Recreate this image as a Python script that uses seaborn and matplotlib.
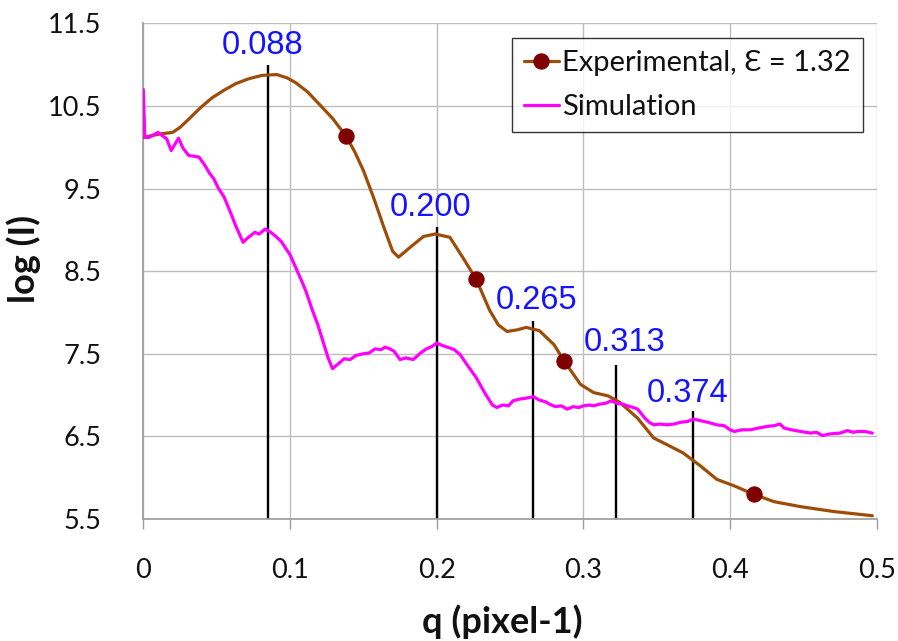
import numpy as np
import seaborn as sns
import matplotlib.pyplot as plt

# experimental curve (log I vs q)
exp_q = [0.000, 0.011, 0.020, 0.025, 0.031, 0.039, 0.047, 0.055, 0.063, 0.072,
         0.081, 0.091, 0.098, 0.104, 0.112, 0.120, 0.129, 0.138, 0.144, 0.150,
         0.157, 0.164, 0.170, 0.174, 0.182, 0.191, 0.199, 0.209, 0.218, 0.227,
         0.236, 0.242, 0.248, 0.255, 0.261, 0.270, 0.280, 0.287, 0.298, 0.307,
         0.317, 0.325, 0.337, 0.348, 0.357, 0.368, 0.380, 0.391, 0.403, 0.416,
         0.430, 0.448, 0.471, 0.497]
exp_logI = [10.12, 10.16, 10.18, 10.24, 10.34, 10.48, 10.60, 10.69, 10.77, 10.83,
            10.87, 10.88, 10.84, 10.78, 10.67, 10.52, 10.35, 10.14, 9.95, 9.72,
            9.39, 9.03, 8.74, 8.67, 8.79, 8.92, 8.95, 8.91, 8.66, 8.40,
            8.03, 7.85, 7.77, 7.79, 7.82, 7.78, 7.61, 7.41, 7.13, 7.03,
            6.99, 6.91, 6.72, 6.48, 6.40, 6.30, 6.14, 5.98, 5.90, 5.80,
            5.71, 5.65, 5.59, 5.54]
exp_marker_q = [0.138, 0.227, 0.287, 0.416]

# simulation curve
sim_q = [0.000, 0.001, 0.004, 0.007, 0.010, 0.013, 0.016, 0.019, 0.021, 0.024,
         0.027, 0.031, 0.035, 0.038, 0.042, 0.045, 0.048, 0.051, 0.055, 0.059,
         0.063, 0.068, 0.071, 0.076, 0.079, 0.083, 0.087, 0.091, 0.094, 0.097,
         0.100, 0.104, 0.108, 0.111, 0.115, 0.119, 0.123, 0.126, 0.129, 0.133,
         0.137, 0.141, 0.145, 0.150, 0.154, 0.158, 0.162, 0.165, 0.168, 0.171,
         0.175, 0.179, 0.184, 0.189, 0.193, 0.197, 0.200, 0.204, 0.209, 0.212,
         0.216, 0.221, 0.227, 0.233, 0.238, 0.241, 0.245, 0.249, 0.252, 0.256,
         0.260, 0.266, 0.270, 0.274, 0.277, 0.281, 0.285, 0.289, 0.293, 0.297,
         0.300, 0.304, 0.307, 0.311, 0.315, 0.319, 0.323, 0.327, 0.330, 0.334,
         0.337, 0.342, 0.345, 0.348, 0.352, 0.357, 0.362, 0.366, 0.371, 0.375,
         0.380, 0.385, 0.391, 0.396, 0.400, 0.403, 0.408, 0.414, 0.419, 0.425,
         0.430, 0.434, 0.437, 0.442, 0.448, 0.455, 0.459, 0.463, 0.468, 0.475,
         0.480, 0.484, 0.487, 0.492, 0.497]
sim_logI = [10.70, 10.12, 10.12, 10.15, 10.18, 10.14, 10.10, 9.96, 10.02, 10.11,
            9.99, 9.90, 9.89, 9.88, 9.78, 9.69, 9.62, 9.51, 9.40, 9.23,
            9.05, 8.85, 8.90, 8.97, 8.95, 9.01, 8.97, 8.91, 8.86, 8.78,
            8.70, 8.54, 8.38, 8.25, 8.04, 7.85, 7.62, 7.45, 7.32, 7.38,
            7.44, 7.43, 7.48, 7.50, 7.51, 7.56, 7.55, 7.58, 7.56, 7.53,
            7.43, 7.45, 7.43, 7.51, 7.56, 7.59, 7.63, 7.60, 7.57, 7.55,
            7.49, 7.36, 7.21, 7.02, 6.88, 6.85, 6.88, 6.87, 6.93, 6.95,
            6.96, 6.98, 6.94, 6.92, 6.89, 6.86, 6.87, 6.83, 6.86, 6.85,
            6.87, 6.88, 6.87, 6.89, 6.90, 6.93, 6.90, 6.89, 6.87, 6.85,
            6.83, 6.72, 6.67, 6.64, 6.65, 6.64, 6.65, 6.67, 6.68, 6.71,
            6.69, 6.67, 6.64, 6.63, 6.58, 6.56, 6.58, 6.58, 6.60, 6.62,
            6.63, 6.65, 6.60, 6.58, 6.56, 6.54, 6.55, 6.51, 6.53, 6.54,
            6.57, 6.55, 6.56, 6.56, 6.54]

# peak markers
peak_q = [0.085, 0.200, 0.266, 0.322, 0.375]
peak_top = [10.99, 9.03, 7.90, 7.36, 6.81]
peak_labels = ['0.088', '0.200', '0.265', '0.313', '0.374']

xticks = [0, 0.1, 0.2, 0.3, 0.4, 0.5]
xtick_labels = ['0', '0.1', '0.2', '0.3', '0.4', '0.5']
yticks = [5.5, 6.5, 7.5, 8.5, 9.5, 10.5, 11.5]

sns.set_theme(style='whitegrid')
plt.rcParams['font.family'] = ['Lato', 'DejaVu Sans']

fig = plt.figure(figsize=(8.98, 6.41), dpi=100)
ax = fig.add_axes([0.1596, 0.1903, 0.8167, 0.7733])

# black peak lines
ax.vlines(peak_q, 5.5, peak_top, color='black', linewidth=1.7, zorder=2)

marker_idx = [exp_q.index(q) for q in exp_marker_q]
sns.lineplot(x=exp_q, y=exp_logI, ax=ax, color='#9E4D08', linewidth=2.3,
             estimator=None, sort=False, marker='o', markevery=marker_idx,
             markersize=11, markerfacecolor='#7F0000', markeredgecolor='#7F0000',
             label='Experimental, \u0190 = 1.32', zorder=3)
sns.lineplot(x=sim_q, y=sim_logI, ax=ax, color='#FF00FF', linewidth=2.3,
             estimator=None, sort=False, label='Simulation', zorder=3)

# peak labels
label_pos = [(0.081, 11.23), (0.196, 9.27), (0.268, 8.14), (0.328, 7.64), (0.371, 7.02)]
for (lx, ly), txt in zip(label_pos, peak_labels):
    ax.text(lx, ly, txt, color='#1414FF', fontsize=23.5, ha='center', va='center',
            family=['Liberation Sans', 'DejaVu Sans'], zorder=4)

ax.set_xlim(0, 0.5)
ax.set_ylim(5.5, 11.5)
ax.set_xticks(xticks)
ax.set_xticklabels(xtick_labels)
ax.set_yticks(yticks)
ax.grid(True, color='#BDBDBD', linewidth=1.0)
for s in ax.spines.values():
    s.set_visible(False)
ax.spines['left'].set_visible(True)
ax.spines['left'].set_color('#9E9E9E')
ax.spines['bottom'].set_visible(True)
ax.spines['bottom'].set_color('#9E9E9E')
ax.tick_params(axis='x', direction='out', length=7, width=1, color='#9E9E9E',
               bottom=True, labelsize=19.5, pad=21, labelcolor='#111111')
ax.tick_params(axis='y', length=0, labelsize=19.5, pad=30, labelcolor='#111111')

ax.set_xlabel('q (pixel-1)', fontsize=26, fontweight='bold', color='#111111')
ax.set_ylabel('log (I)', fontsize=26, fontweight='bold', color='#111111')
ax.xaxis.set_label_coords(0.49, -0.173)
ax.yaxis.set_label_coords(-0.14, 0.525)

leg = ax.legend(loc='upper right', bbox_to_anchor=(0.981, 0.970), borderaxespad=0,
                fontsize=21, frameon=True, fancybox=False, handlelength=1.2,
                handletextpad=0.1, labelspacing=0.6, borderpad=0.42)
leg.get_frame().set_edgecolor('black')
leg.get_frame().set_linewidth(1.0)
for t in leg.get_texts():
    t.set_color('#111111')

fig.savefig('out.png', dpi=100)
